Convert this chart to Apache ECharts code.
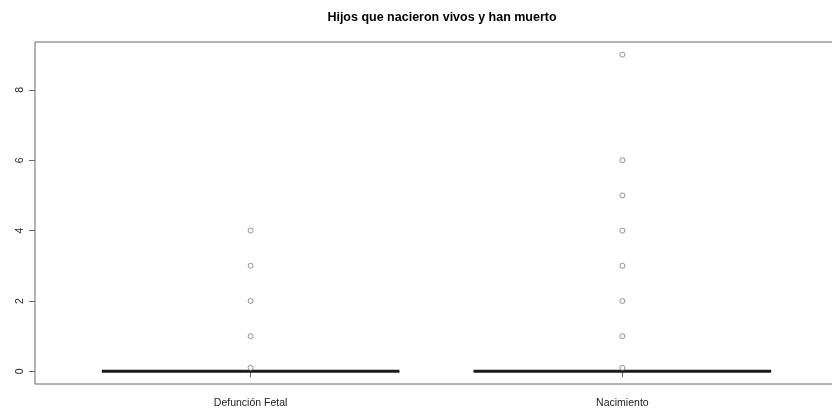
<!DOCTYPE html>
<html>
<head>
<meta charset="utf-8">
<script src="https://cdn.jsdelivr.net/npm/echarts@6/dist/echarts.min.js"></script>
<style>html,body{margin:0;padding:0;background:#fff}#c{width:832px;height:411px}</style>
</head>
<body>
<div id="c"></div>
<script>
const title = 'Hijos que nacieron vivos y han muerto';
const categories = ['Defunción Fetal', 'Nacimiento'];
// [min, Q1, median, Q3, max] per category
const boxStats = [[0, 0, 0, 0, 0], [0, 0, 0, 0, 0]];
const outliersFetal = [0.1, 1, 2, 3, 4];
const outliersNacimiento = [0.1, 1, 2, 3, 4, 5, 6, 9];
const yTicks = [0, 2, 4, 6, 8];

const chart = echarts.init(document.getElementById('c'), null, {renderer: 'canvas'});
const font = '"Liberation Sans", Arial, sans-serif';

const boxData = boxStats.map((s, i) => [i + 1].concat(s));
const outData = [];
outliersFetal.forEach(v => outData.push([1, v]));
outliersNacimiento.forEach(v => outData.push([2, v]));

chart.setOption({
  animation: false,
  backgroundColor: '#fff',
  title: {
    text: title, left: 437, top: 6, textAlign: 'center',
    textStyle: {fontFamily: font, fontSize: 12.5, fontWeight: 'bold', color: '#000'}
  },
  grid: {left: 35, width: 803, top: 42, bottom: 27, outerBoundsMode: 'none', containLabel: false, show: true, borderColor: '#666', borderWidth: 1, backgroundColor: 'transparent'},
  xAxis: {
    type: 'value', min: 0.42, max: 2.58,
    splitLine: {show: false},
    axisLine: {show: false},
    axisTick: {show: true, length: 6, customValues: [1, 2], lineStyle: {color: '#666'}},
    axisLabel: {
      customValues: [1, 2], margin: 14,
      formatter: v => categories[Math.round(v) - 1] || '',
      fontFamily: font, fontSize: 10.5, color: '#222'
    }
  },
  yAxis: {
    type: 'value', min: -0.36, max: 9.36,
    splitLine: {show: false},
    axisLine: {show: false},
    axisTick: {show: true, length: 6, customValues: yTicks, lineStyle: {color: '#666'}},
    axisLabel: {
      customValues: yTicks, rotate: 90, margin: 9,
      fontFamily: font, fontSize: 10.5, color: '#222'
    }
  },
  series: [
    {
      type: 'custom',
      data: boxData,
      renderItem: function (params, api) {
        const x = api.value(0);
        const hw = 0.4;
        const min = api.value(1), q1 = api.value(2), med = api.value(3), q3 = api.value(4), max = api.value(5);
        const pL = api.coord([x - hw, q1]);
        const pR = api.coord([x + hw, q3]);
        const mL = api.coord([x - hw, med]);
        const mR = api.coord([x + hw, med]);
        const c = api.coord([x, 0]);
        const sw = 0.2;
        const children = [
          {type: 'line', shape: {x1: c[0], y1: api.coord([x, q3])[1], x2: c[0], y2: api.coord([x, max])[1]}, style: {stroke: '#222', lineWidth: 1, lineDash: [4, 3]}},
          {type: 'line', shape: {x1: c[0], y1: api.coord([x, q1])[1], x2: c[0], y2: api.coord([x, min])[1]}, style: {stroke: '#222', lineWidth: 1, lineDash: [4, 3]}},
          {type: 'line', shape: {x1: api.coord([x - sw, max])[0], y1: api.coord([x, max])[1], x2: api.coord([x + sw, max])[0], y2: api.coord([x, max])[1]}, style: {stroke: '#222', lineWidth: 1}},
          {type: 'line', shape: {x1: api.coord([x - sw, min])[0], y1: api.coord([x, min])[1], x2: api.coord([x + sw, min])[0], y2: api.coord([x, min])[1]}, style: {stroke: '#222', lineWidth: 1}},
          {type: 'rect', shape: {x: pL[0], y: pR[1], width: pR[0] - pL[0], height: pL[1] - pR[1]}, style: {fill: 'none', stroke: '#222', lineWidth: 1}},
          {type: 'line', shape: {x1: mL[0], y1: mL[1], x2: mR[0], y2: mR[1]}, style: {stroke: '#1a1a1a', lineWidth: 3}}
        ];
        return {type: 'group', children: children};
      },
      z: 2
    },
    {
      type: 'scatter',
      data: outData,
      symbol: 'circle',
      symbolSize: 5,
      itemStyle: {color: '#fff', borderColor: '#777', borderWidth: 1},
      z: 3
    }
  ]
});
</script>
</body>
</html>
